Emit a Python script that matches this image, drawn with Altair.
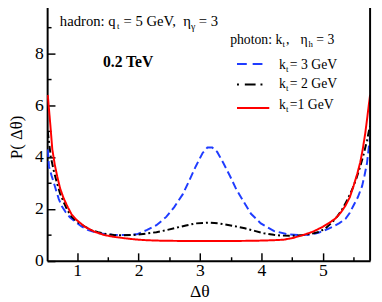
import altair as alt
import pandas as pd

# ---- data ----
x_k1 = [0.52, 0.56, 0.594, 0.635, 0.674, 0.72, 0.78, 0.85, 0.91, 1.0, 1.125, 1.28, 1.44, 1.6, 1.76, 1.95,
        2.13, 2.4, 2.8, 3.14, 3.5, 3.9, 4.2, 4.36, 4.5, 4.68, 4.85, 5.0, 5.1, 5.21, 5.3, 5.37, 5.44, 5.5,
        5.56, 5.61, 5.65, 5.69, 5.72, 5.75, 5.77]
y_k1 = [6.4, 5.3, 4.3, 3.7, 3.26, 2.8, 2.4, 2.05, 1.78, 1.55, 1.31, 1.12, 0.99, 0.92, 0.87, 0.82,
        0.79, 0.77, 0.76, 0.76, 0.76, 0.77, 0.79, 0.81, 0.87, 0.99, 1.13, 1.31, 1.45, 1.64, 1.88, 2.13, 2.45, 2.88,
        3.35, 3.8, 4.3, 4.9, 5.45, 6.03, 6.4]

x_k2 = [0.52, 0.57, 0.62, 0.67, 0.72, 0.78, 0.84, 0.91, 1.0, 1.13, 1.23, 1.34, 1.47, 1.6, 1.75, 1.87, 1.97,
        2.13, 2.29, 2.45, 2.61, 2.77, 2.93, 3.14, 3.3, 3.41, 3.57, 3.73, 3.89, 4.04, 4.2, 4.31, 4.5, 4.68,
        4.82, 4.95, 5.06, 5.16, 5.24, 5.32, 5.4, 5.48, 5.55, 5.61, 5.67, 5.72, 5.75, 5.77]
y_k2 = [5.0, 4.0, 3.45, 3.0, 2.6, 2.26, 1.95, 1.69, 1.5, 1.31, 1.18, 1.1, 1.03, 0.99, 0.98, 0.99, 1.0,
        1.05, 1.1, 1.18, 1.27, 1.36, 1.44, 1.47, 1.44, 1.4, 1.33, 1.25, 1.15, 1.06, 1.0, 0.97, 0.96, 0.99,
        1.04, 1.12, 1.28, 1.5, 1.72, 2.0, 2.35, 2.76, 3.2, 3.64, 4.15, 4.65, 5.0, 5.2]

x_k3 = [0.52, 0.54, 0.58, 0.62, 0.66, 0.7, 0.75, 0.81, 0.88, 0.97, 1.07, 1.18, 1.3, 1.44, 1.57, 1.71, 1.85,
        1.97, 2.13, 2.29, 2.45, 2.58, 2.72, 2.82, 2.93, 3.04, 3.12, 3.2, 3.28, 3.38, 3.49, 3.59, 3.7, 3.83,
        3.99, 4.2, 4.42, 4.6, 4.75, 4.88, 4.95, 5.06, 5.16, 5.27, 5.37, 5.44, 5.5, 5.57, 5.64, 5.68, 5.72,
        5.75, 5.77]
y_k3 = [4.3, 3.64, 3.3, 3.0, 2.68, 2.38, 2.1, 1.88, 1.68, 1.5, 1.32, 1.18, 1.09, 1.03, 1.0, 0.99, 1.0,
        1.02, 1.18, 1.37, 1.69, 2.07, 2.57, 3.07, 3.64, 4.15, 4.37, 4.37, 4.2, 3.77, 3.26, 2.76, 2.32, 1.81,
        1.44, 1.15, 1.02, 0.99, 1.0, 1.05, 1.1, 1.2, 1.31, 1.45, 1.62, 1.85, 2.13, 2.45, 2.88, 3.3, 3.77,
        4.4, 4.8]

series_names = ["k3", "k2", "k1"]
series_colors = ["#1f3cff", "#000000", "#ff0000"]
series_dashes = [[8, 4], [7, 3, 2, 3], [1, 0]]

x_major = [1, 2, 3, 4, 5]
x_minor = [1.5, 2.5, 3.5, 4.5, 5.5]
y_major = [0, 2, 4, 6, 8, 10]
y_minor = [1, 3, 5, 7, 9]

# ---- layout ----
W, H = 330, 264.6
OX, OY = 48, -1.6          # page position of plot origin
SERIF = "Liberation Serif"

df = pd.concat([
    pd.DataFrame({"x": x_k3, "y": y_k3, "series": "k3"}),
    pd.DataFrame({"x": x_k2, "y": y_k2, "series": "k2"}),
    pd.DataFrame({"x": x_k1, "y": y_k1, "series": "k1"}),
], ignore_index=True)

xscale = alt.Scale(domain=[0.51, 5.77], nice=False, zero=False)
yscale = alt.Scale(domain=[0, 10], nice=False, zero=False)

color = alt.Color("series:N", scale=alt.Scale(domain=series_names, range=series_colors), legend=None)
dash = alt.StrokeDash("series:N", scale=alt.Scale(domain=series_names, range=series_dashes), legend=None)

lines = alt.Chart(df).mark_line(strokeWidth=2, clip=True).encode(
    x=alt.X("x:Q", scale=xscale, axis=alt.Axis(
        orient="bottom", offset=-8, tickSize=8, values=x_major, domain=False, grid=False,
        labelFont=SERIF, labelFontSize=18, labelColor="black", labelPadding=1,
        tickColor="black", tickWidth=1.5, title=None)),
    y=alt.Y("y:Q", scale=yscale, axis=alt.Axis(
        orient="left", offset=-8, tickSize=8, values=y_major, domain=False, grid=False,
        labelFont=SERIF, labelFontSize=18, labelColor="black", labelPadding=4,
        tickColor="black", tickWidth=1.5, title=None)),
    color=color,
    strokeDash=dash,
    detail="series:N",
)

minor = alt.Chart(df).mark_point(opacity=0).encode(
    x=alt.X("x:Q", scale=xscale, axis=alt.Axis(
        orient="top", offset=-H, tickSize=4, values=x_minor, domain=True, domainColor="black",
        domainWidth=2, labels=False, grid=False, tickColor="black", tickWidth=1.5, title=None)),
    y=alt.Y("y:Q", scale=yscale, axis=alt.Axis(
        orient="right", offset=-W, tickSize=4, values=y_minor, domain=True, domainColor="black",
        domainWidth=2, labels=False, grid=False, tickColor="black", tickWidth=1.5, title=None)),
)

one = pd.DataFrame({"a": [0]})

right_frame = alt.Chart(one).mark_rule(color="black", strokeWidth=2).encode(
    x=alt.value(W), y=alt.value(0), y2=alt.value(H))


def txt(s, px, py, size=15, weight="normal", angle=0, align="left", baseline="alphabetic"):
    return alt.Chart(one).mark_text(
        text=s, font=SERIF, fontSize=size, fontWeight=weight, color="black",
        align=align, baseline=baseline, angle=angle,
    ).encode(x=alt.value(px - OX), y=alt.value(py - OY))


texts = [
    # header
    txt("hadron: q", 61, 23),
    txt("t", 119.5, 26.5, size=9),
    txt("= 5 GeV,", 126, 23),
    txt("η", 187, 23),
    txt("γ", 195, 27, size=10),
    txt("= 3", 203, 23),
    txt("0.2 TeV", 105, 65, size=16, weight="bold"),
    # legend header
    txt("photon: k", 235, 42, size=14),
    txt("t", 288.5, 45, size=9),
    txt(",", 292, 42, size=14),
    txt("η", 307, 42, size=14),
    txt("h", 315, 45, size=9),
    txt("= 3", 323, 42, size=14),
    # legend rows
    txt("k", 285, 67, size=14), txt("t", 292, 70, size=9), txt("= 3 GeV", 296, 67, size=14),
    txt("k", 285, 87, size=14), txt("t", 292, 90, size=9), txt("= 2 GeV", 296, 87, size=14),
    txt("k", 285, 108, size=14), txt("t", 292, 111, size=9), txt("=1 GeV", 296, 108, size=14),
    # axis titles
    txt("P( Δθ)", 17, 137, size=17, angle=270, align="center", baseline="middle"),
    txt("Δθ", 204, 295, size=18, align="center", baseline="middle"),
]

legend_y = [62, 83, 107]
legend_x2 = [270, 270, 275]
legend_dash = [[10, 6], [2, 6, 11, 5, 2], [1, 0]]
legend_marks = []
for c, yy, x2, d in zip(series_colors, legend_y, legend_x2, legend_dash):
    legend_marks.append(
        alt.Chart(one).mark_rule(color=c, strokeWidth=2, strokeDash=d).encode(
            x=alt.value(242 - OX), x2=alt.value(x2 - OX), y=alt.value(yy - OY))
    )

chart = alt.layer(lines, minor, right_frame, *legend_marks, *texts).properties(
    width=W, height=H,
    autosize="none",
    padding={"left": 40, "top": -9.6, "right": 4, "bottom": 39},
).configure_view(stroke=None).configure(background="white")

chart.save("out.html", embed_options={"renderer": "svg", "actions": False})
